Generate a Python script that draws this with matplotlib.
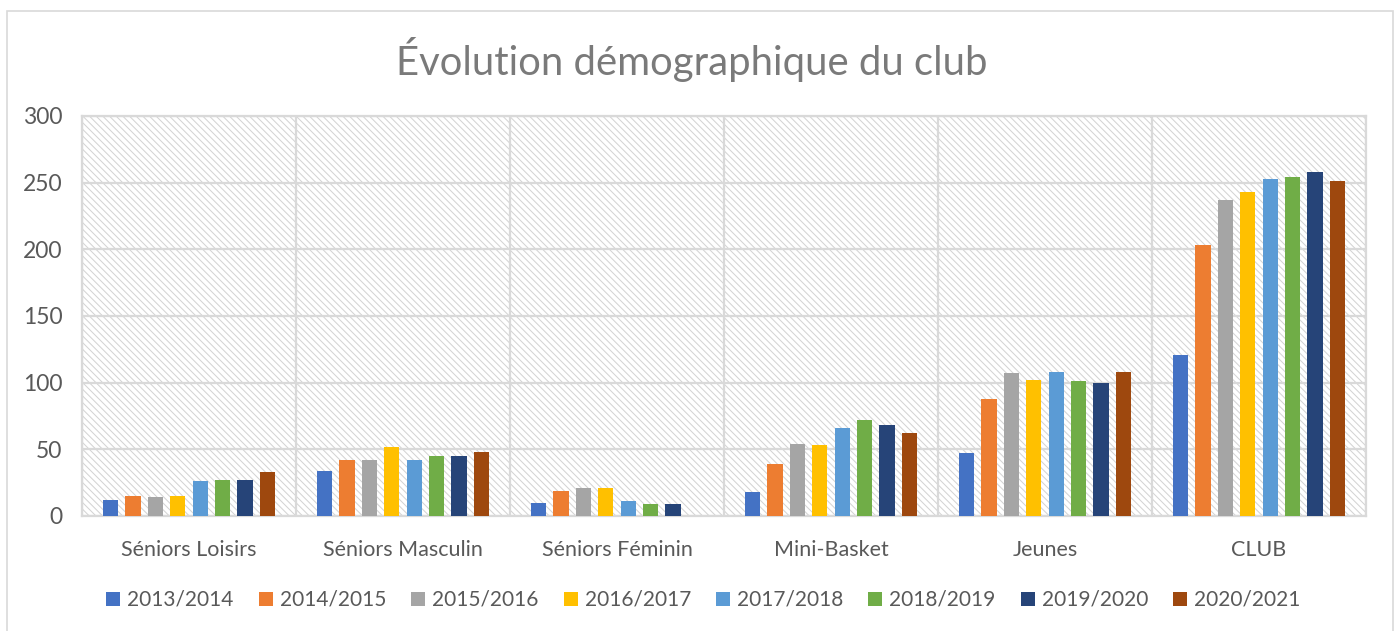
import numpy as np
import matplotlib
matplotlib.use("Agg")
from matplotlib import pyplot as plt
from matplotlib.patches import Rectangle

categories = ["Séniors Loisirs", "Séniors Masculin", "Séniors Féminin", "Mini-Basket", "Jeunes", "CLUB"]
seasons = ["2013/2014", "2014/2015", "2015/2016", "2016/2017",
           "2017/2018", "2018/2019", "2019/2020", "2020/2021"]

s2013 = [12, 34, 10, 18, 47, 121]
s2014 = [15, 42, 19, 39, 88, 203]
s2015 = [14, 42, 21, 54, 107, 237]
s2016 = [15, 52, 21, 53, 102, 243]
s2017 = [26, 42, 11, 66, 108, 253]
s2018 = [27, 45, 9, 72, 101, 254]
s2019 = [27, 45, 9, 68, 100, 258]
s2020 = [33, 48, 0, 62, 108, 251]
series = [s2013, s2014, s2015, s2016, s2017, s2018, s2019, s2020]

colors = ["#4472C4", "#ED7D31", "#A5A5A5", "#FFC000",
          "#5B9BD5", "#70AD47", "#264478", "#9E480E"]

plt.rcParams['font.family'] = ['Lato', 'DejaVu Sans']
plt.rcParams['hatch.linewidth'] = 0.75

W, H = 1397, 631
fig = plt.figure(figsize=(W / 100, H / 100), dpi=100)

# outer chart border
fig.patches.append(Rectangle((7 / W, -0.05), (1393 - 7) / W, 1.05 - 11 / H,
                             transform=fig.transFigure, facecolor='none',
                             edgecolor='#d9d9d9', lw=1.2))

ax = fig.add_axes([82 / W, (H - 516) / H, (1366 - 82) / W, 400 / H])
ax.patch.set_facecolor('white')
ax.add_patch(Rectangle((0, 0), 1, 1, transform=ax.transAxes, facecolor='white',
                       edgecolor='#d4d4d4', hatch='\\\\\\\\\\', lw=0, zorder=0))

x = np.arange(len(categories))
step = 0.105
bw = 0.072
for j, vals in enumerate(series):
    ax.bar(x + (j - 3.5) * step, vals, width=bw, color=colors[j],
           label=seasons[j], zorder=3)

ax.set_xlim(-0.5, len(categories) - 0.5)
ax.set_ylim(0, 300)
ax.set_yticks(range(0, 301, 50))
ax.set_xticks(x)
ax.set_xticklabels(categories)
ax.set_xticks(np.arange(-0.5, len(categories), 1), minor=True)
ax.grid(True, which='minor', axis='x', color='#d9d9d9', lw=1.6, zorder=1)
ax.grid(True, which='major', axis='y', color='#d9d9d9', lw=1.6, zorder=1)
ax.tick_params(axis='both', which='both', length=0, colors='#595959')
ax.tick_params(axis='y', pad=14, labelsize=16.5)
ax.tick_params(axis='x', pad=17, labelsize=15.5)
for sp in ax.spines.values():
    sp.set_color('#d9d9d9')
    sp.set_linewidth(1.6)

fig.text(0.495, 1 - 60 / H, "Évolution démographique du club", ha='center', va='center',
         fontsize=28.8, color='#7a7a7a')

leg = ax.legend(loc='center', bbox_to_anchor=(0.484, (516 - 600) / 400), ncol=8,
                frameon=False, fontsize=15, handlelength=0.67, handleheight=0.67,
                handletextpad=0.34, columnspacing=1.2, labelcolor='#595959')

fig.savefig("out.png", dpi=100)
